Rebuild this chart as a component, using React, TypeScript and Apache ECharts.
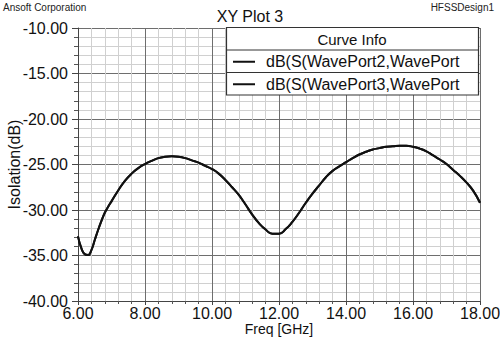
import React, { useEffect, useRef } from "react";
import * as echarts from "echarts";

const freqs = [6.0, 6.1, 6.2, 6.3, 6.4, 6.5, 6.6, 6.7, 6.8, 6.9, 7.0, 7.2, 7.4, 7.6, 7.8, 8.0, 8.2, 8.4, 8.6, 8.8, 9.0, 9.2, 9.4, 9.6, 9.8, 10.0, 10.2, 10.4, 10.6, 10.8, 11.0, 11.2, 11.4, 11.6, 11.8, 12.0, 12.2, 12.4, 12.6, 12.8, 13.0, 13.2, 13.4, 13.6, 13.8, 14.0, 14.2, 14.4, 14.6, 14.8, 15.0, 15.2, 15.4, 15.6, 15.8, 16.0, 16.2, 16.4, 16.6, 16.8, 17.0, 17.2, 17.4, 17.6, 17.8, 18.0];
const s23 = [-32.9, -34.2, -34.85, -34.95, -34.4, -33.3, -32.2, -31.2, -30.3, -29.65, -29.05, -27.85, -26.8, -26.0, -25.4, -24.95, -24.6, -24.3, -24.15, -24.1, -24.15, -24.3, -24.55, -24.8, -25.15, -25.5, -26.0, -26.7, -27.5, -28.35, -29.4, -30.5, -31.45, -32.15, -32.6, -32.6, -32.1, -31.3, -30.3, -29.2, -28.2, -27.3, -26.4, -25.7, -25.2, -24.75, -24.3, -23.9, -23.6, -23.35, -23.2, -23.05, -23.0, -22.95, -22.95, -23.05, -23.25, -23.55, -24.0, -24.45, -24.95, -25.6, -26.25, -27.0, -27.9, -29.2];
const s32 = s23.slice();
const seriesNames = ["dB(S(WavePort2,WavePort", "dB(S(WavePort3,WavePort"];
const FONT = "Liberation Sans, Arial, sans-serif";

export default function App() {
  const ref = useRef<HTMLDivElement>(null);
  useEffect(() => {
    const chart = echarts.init(ref.current!, null, { renderer: "svg" });
    const toPairs = (ys: number[]) => freqs.map((f, i) => [f, ys[i]]);
    const legendTop = 27;
    const rowH = 22.5;
    chart.setOption({
      animation: false,
      backgroundColor: "#ffffff",
      textStyle: { fontFamily: FONT },
      title: {
        text: "XY Plot 3",
        left: "center",
        top: 3,
        textStyle: { fontSize: 16, fontWeight: "normal", color: "#111", fontFamily: FONT },
      },
      grid: { left: 78, right: 20, top: 28, bottom: 38, containLabel: false, outerBoundsMode: "none" },
      xAxis: {
        type: "value",
        min: 6,
        max: 18,
        interval: 2,
        name: "Freq [GHz]",
        nameLocation: "middle",
        nameGap: 21,
        nameMoveOverlap: false,
        nameTextStyle: { fontSize: 14, color: "#111", fontFamily: FONT },
        axisLine: { show: true, lineStyle: { color: "#444", width: 1 } },
        axisTick: { show: true, length: 4, lineStyle: { color: "#444" } },
        minorTick: { show: true, splitNumber: 5, length: 3, lineStyle: { color: "#555" } },
        axisLabel: { fontSize: 16, color: "#111", margin: 4, formatter: (v: number) => v.toFixed(2), fontFamily: FONT, hideOverlap: false },
        splitLine: { show: true, lineStyle: { color: "#6e6e6e", width: 1 } },
        minorSplitLine: { show: true, lineStyle: { color: "#d0d0d0", width: 1 } },
      },
      yAxis: {
        type: "value",
        min: -40,
        max: -10,
        interval: 5,
        name: "Isolation(dB)",
        nameLocation: "middle",
        nameRotate: 90,
        nameGap: 56,
        nameMoveOverlap: false,
        nameTextStyle: { fontSize: 16, color: "#111", fontFamily: FONT },
        axisLine: { show: true, lineStyle: { color: "#444", width: 1 } },
        axisTick: { show: true, length: 6, lineStyle: { color: "#444" } },
        minorTick: { show: true, splitNumber: 5, length: 4, lineStyle: { color: "#555" } },
        axisLabel: { fontSize: 16, color: "#111", margin: 10, formatter: (v: number) => v.toFixed(2), fontFamily: FONT },
        splitLine: { show: true, lineStyle: { color: "#6e6e6e", width: 1 } },
        minorSplitLine: { show: true, lineStyle: { color: "#d0d0d0", width: 1 } },
      },
      series: [
        {
          name: seriesNames[0],
          type: "line",
          data: toPairs(s23),
          smooth: 0.5,
          showSymbol: false,
          lineStyle: { color: "#111", width: 2 },
          z: 3,
        },
        {
          name: seriesNames[1],
          type: "line",
          data: toPairs(s32),
          smooth: 0.5,
          showSymbol: false,
          lineStyle: { color: "#111", width: 2 },
          z: 3,
        },
      ],
      graphic: [
        { type: "text", left: 3, top: 2, style: { text: "Ansoft Corporation", fontSize: 10, fill: "#222", fontFamily: FONT } },
        { type: "text", right: 6, top: 2, style: { text: "HFSSDesign1", fontSize: 10, fill: "#222", fontFamily: FONT } },
        {
          type: "group",
          z: 100,
          children: [
            { type: "rect", shape: { x: 226.5, y: legendTop + 0.5, width: 252, height: rowH * 3 }, style: { fill: "#fff", stroke: "#333", lineWidth: 1.2 }, z: 100 },
            { type: "line", shape: { x1: 226.5, y1: legendTop + rowH + 0.5, x2: 478.5, y2: legendTop + rowH + 0.5 }, style: { stroke: "#333", lineWidth: 1 }, z: 101 },
            { type: "line", shape: { x1: 226.5, y1: legendTop + rowH * 2 + 0.5, x2: 478.5, y2: legendTop + rowH * 2 + 0.5 }, style: { stroke: "#333", lineWidth: 1 }, z: 101 },
            { type: "text", x: 352, y: legendTop + rowH / 2 + 1, style: { text: "Curve Info", fontSize: 15, fill: "#111", align: "center", verticalAlign: "middle", fontFamily: FONT }, z: 102 },
            { type: "line", shape: { x1: 233, y1: legendTop + rowH * 1.5 + 1, x2: 255, y2: legendTop + rowH * 1.5 + 1 }, style: { stroke: "#111", lineWidth: 2 }, z: 102 },
            { type: "text", x: 266, y: legendTop + rowH * 1.5 + 1, style: { text: seriesNames[0], fontSize: 16, fill: "#111", verticalAlign: "middle", fontFamily: FONT }, z: 102 },
            { type: "line", shape: { x1: 233, y1: legendTop + rowH * 2.5 + 1, x2: 255, y2: legendTop + rowH * 2.5 + 1 }, style: { stroke: "#111", lineWidth: 2 }, z: 102 },
            { type: "text", x: 266, y: legendTop + rowH * 2.5 + 1, style: { text: seriesNames[1], fontSize: 16, fill: "#111", verticalAlign: "middle", fontFamily: FONT }, z: 102 },
          ],
        },
      ],
    });
    return () => chart.dispose();
  }, []);
  return <div ref={ref} style={{ position: "absolute", left: 0, top: 0, width: 500, height: 339 }} />;
}
